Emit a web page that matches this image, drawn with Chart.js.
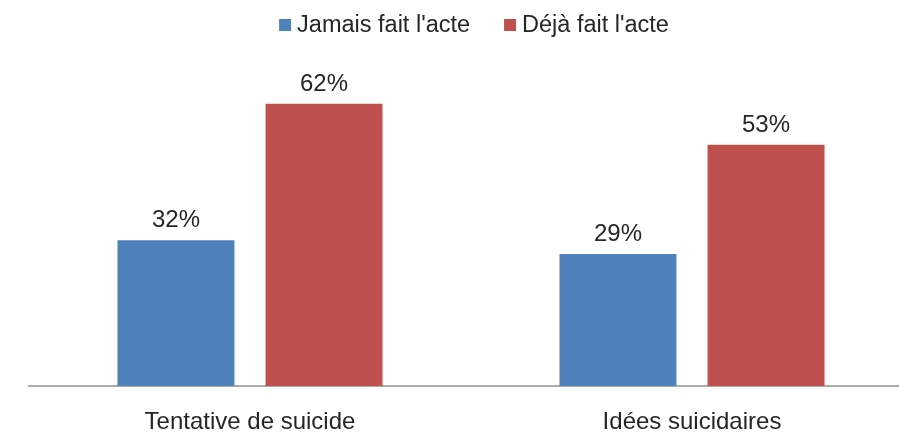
<!DOCTYPE html>
<html>
<head>
<meta charset="utf-8">
<script src="https://cdn.jsdelivr.net/npm/chart.js@4.4.1/dist/chart.umd.min.js"></script>
<style>
  html, body { margin: 0; padding: 0; background: #fff; overflow: hidden; }
  #wrap { position: relative; width: 915px; height: 433px; }
</style>
</head>
<body>
<div id="wrap"><canvas id="chart"></canvas></div>
<script>
// Chart data
const categories = ['Tentative de suicide', 'Idées suicidaires'];
const seriesNames = ["Jamais fait l'acte", "Déjà fait l'acte"];
const jamaisValues = [32, 29];
const dejaValues = [62, 53];

const textColor = '#262626';
const fontFamily = '"Liberation Sans", Arial, sans-serif';

// Simple value labels drawn above each bar
const valueLabels = {
  id: 'valueLabels',
  afterDatasetsDraw: function(chart) {
    const ctx = chart.ctx;
    ctx.save();
    ctx.font = '24px ' + fontFamily;
    ctx.fillStyle = textColor;
    ctx.textAlign = 'center';
    ctx.textBaseline = 'alphabetic';
    chart.data.datasets.forEach((ds, i) => {
      chart.getDatasetMeta(i).data.forEach((bar, j) => {
        ctx.fillText(ds.data[j] + '%', bar.x, bar.y - 13);
      });
    });
    ctx.restore();
  }
};

// Legend drawn by hand so the box/text spacing matches the original
const topLegend = {
  id: 'topLegend',
  afterDraw: function(chart) {
    const ctx = chart.ctx;
    const box = 12, gap = 6, itemGap = 34, y = 25;
    ctx.save();
    ctx.font = '23.5px ' + fontFamily;
    const items = chart.data.datasets.map(ds => ({
      text: ds.label,
      color: ds.backgroundColor,
      w: ctx.measureText(ds.label).width
    }));
    let total = 0;
    items.forEach((it, i) => { total += box + gap + it.w + (i ? itemGap : 0); });
    let x = (chart.chartArea.left + chart.chartArea.right) / 2 + 3 - total / 2;
    ctx.textBaseline = 'middle';
    ctx.textAlign = 'left';
    items.forEach(it => {
      ctx.fillStyle = it.color;
      ctx.fillRect(x, y - box / 2, box, box);
      ctx.fillStyle = textColor;
      ctx.fillText(it.text, x + box + gap, y + 1);
      x += box + gap + it.w + itemGap;
    });
    ctx.restore();
  }
};

new Chart(document.getElementById('chart').getContext('2d'), {
  type: 'bar',
  data: {
    labels: categories,
    datasets: [{
      label: seriesNames[0],
      data: jamaisValues,
      backgroundColor: '#4F81BD'
    }, {
      label: seriesNames[1],
      data: dejaValues,
      backgroundColor: '#C0504D'
    }]
  },
  options: {
    responsive: true,
    maintainAspectRatio: false,
    animation: false,
    categoryPercentage: 0.67,
    barPercentage: 0.79,
    layout: {
      padding: { left: 29, right: 2, top: 50, bottom: 0 }
    },
    plugins: {
      tooltip: { enabled: false },
      legend: { display: false }
    },
    scales: {
      x: {
        grid: { display: false, drawTicks: false },
        border: { display: true, color: '#ABABAB', width: 2 },
        ticks: {
          color: textColor,
          padding: 24,
          font: { family: fontFamily, size: 24, lineHeight: 1 }
        },
        afterFit: function(scale) { scale.height = 47; }
      },
      y: {
        display: false,
        min: 0,
        max: 73.8
      }
    }
  },
  plugins: [valueLabels, topLegend]
});
</script>
</body>
</html>
